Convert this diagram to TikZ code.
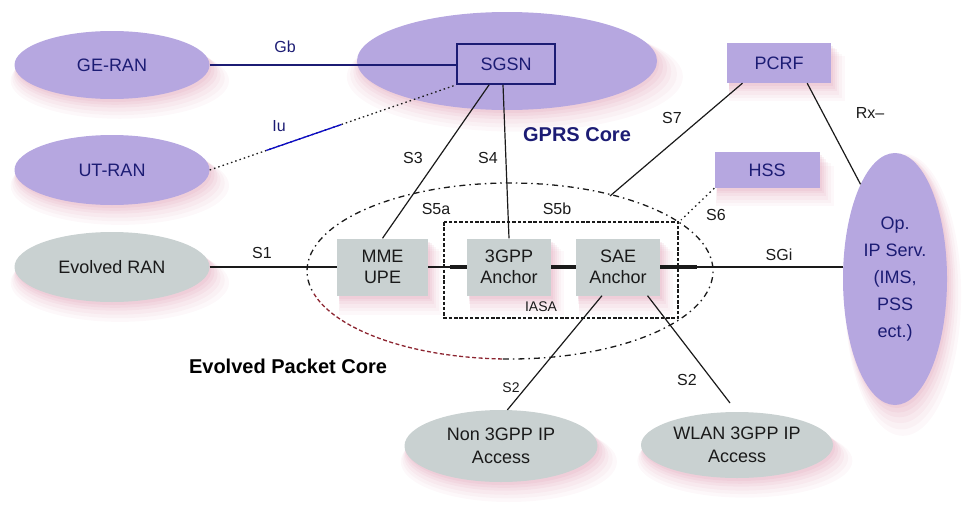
\documentclass[tikz,border=0pt]{standalone}
\usepackage{fontspec}
\setmainfont{Liberation Sans}
\usetikzlibrary{shapes.geometric,shadows,calc}

\definecolor{lav}{HTML}{B6A7E0}
\definecolor{ashgrey}{HTML}{C9D1D1}
\definecolor{navy}{HTML}{1C1C74}
\definecolor{glow}{HTML}{DFA0B6}
\definecolor{epcred}{HTML}{8C2430}
\definecolor{ink}{HTML}{1A1A1A}

\tikzset{
  halo/.style={
    general shadow={fill=glow, opacity=0.07, shadow scale=1.12, shadow xshift=7pt, shadow yshift=-14pt},
    general shadow={fill=glow, opacity=0.08, shadow scale=1.09, shadow xshift=6pt, shadow yshift=-12pt},
    general shadow={fill=glow, opacity=0.10, shadow scale=1.06, shadow xshift=5pt, shadow yshift=-10pt},
    general shadow={fill=glow, opacity=0.12, shadow scale=1.04, shadow xshift=4pt, shadow yshift=-7pt},
    general shadow={fill=glow, opacity=0.14, shadow scale=1.02, shadow xshift=3pt, shadow yshift=-5pt},
    general shadow={fill=glow, opacity=0.16, shadow scale=1.00, shadow xshift=2pt, shadow yshift=-3pt}},
  netcloud/.style={ellipse, fill=lav, inner sep=0pt, text=navy, halo, align=center,
    font=\fontsize{18}{21}\selectfont},
  greycloud/.style={ellipse, fill=ashgrey, inner sep=0pt, text=ink, halo, align=center,
    font=\fontsize{18}{23}\selectfont},
  unitbox/.style={rectangle, fill=ashgrey, inner sep=0pt, minimum width=84pt,
    minimum height=57pt, text=ink, align=center, halo, font=\fontsize{18}{21}\selectfont},
  funcbox/.style={rectangle, fill=lav, inner sep=0pt, text=navy,
    font=\fontsize{18}{21}\selectfont},
  iflabel/.style={font=\fontsize{16}{18}\selectfont, text=ink, inner sep=1pt},
  areatitle/.style={font=\fontsize{20}{22}\selectfont\bfseries, inner sep=1pt},
  link/.style={draw=ink, line width=1.2pt},
  trunk/.style={draw=ink, line width=4pt},
  dotlink/.style={draw=ink, line width=1.3pt, dash pattern=on 1.5pt off 3.5pt},
  epcdark/.style={draw=ink, line width=1.3pt, dash pattern=on 6pt off 4pt on 1.5pt off 4pt},
  epcmaroon/.style={draw=epcred, line width=1.3pt, dash pattern=on 4pt off 2.5pt},
  iasabox/.style={draw=ink, line width=1.1pt, dash pattern=on 3.5pt off 1.8pt},
}

\begin{document}
\begin{tikzpicture}[x=1pt, y=-1pt]
\useasboundingbox (0,0) rectangle (965,506);

% access networks on the left
\node[netcloud, minimum width=195pt, minimum height=68pt] (geran) at (112,65) {GE-RAN};
\node[netcloud, minimum width=195pt, minimum height=70pt] (utran) at (112,170) {UT-RAN};
\node[greycloud, minimum width=195pt, minimum height=70pt] (eran) at (112,267) {Evolved RAN};

% GPRS core with the SGSN
\node[ellipse, fill=lav, halo, inner sep=0pt, minimum width=300pt, minimum height=98pt] (gprs) at (507,61) {};
\node[funcbox, draw=navy, line width=1.8pt, minimum width=98pt, minimum height=40pt] (sgsn) at (506,64) {SGSN};
\node[areatitle, text=navy] (gprstitle) at (577,135) {GPRS Core};

% policy and subscriber functions
\node[funcbox, halo, minimum width=104pt, minimum height=40pt] (pcrf) at (779,63) {PCRF};
\node[funcbox, halo, minimum width=105pt, minimum height=36pt] (hss) at (767,170) {HSS};

% operator IP services
\node[netcloud, minimum width=104pt, minimum height=252pt, font=\fontsize{18}{27}\selectfont]
  (opip) at (895,279) {Op.\\IP Serv.\\(IMS,\\PSS\\ect.)};

% evolved packet core outline and the IASA area
\coordinate (epcc) at (510,271);
\draw[epcdark] ($(epcc)+(268:203pt and 88pt)$)
  arc[start angle=268, end angle=555, x radius=203pt, y radius=88pt];
\draw[epcmaroon] ($(epcc)+(195:203pt and 88pt)$)
  arc[start angle=195, end angle=268, x radius=203pt, y radius=88pt];
\draw[iasabox] (444,222) rectangle (678,318);
\node[areatitle] (epctitle) at (288,366) {Evolved Packet Core};

% core units
\node[unitbox, minimum width=91pt] (mme) at (382.5,267) {MME\\UPE};
\node[unitbox] (gpp) at (509,267) {3GPP\\Anchor};
\node[unitbox] (sae) at (618,267) {SAE\\Anchor};

% non-3GPP accesses
\node[greycloud, minimum width=193pt, minimum height=72pt] (non3gpp) at (501,446) {Non 3GPP IP\\Access};
\node[greycloud, minimum width=192pt, minimum height=66pt] (wlan) at (737,445) {WLAN 3GPP IP\\Access};

% free ends of interfaces that stop at the core outline
\coordinate (s7end) at (610,196);
\coordinate (s6end) at (681,220);
\coordinate (s2end) at (730,403);

% interfaces
\draw[draw=navy, line width=1.8pt] (geran.east) -- (geran.east -| sgsn.west);
\draw[draw=ink, line width=1.3pt, dash pattern=on 1.5pt off 3pt] (utran.east) -- (sgsn.south west);
\draw[draw=blue!60!navy, line width=1.3pt]
  ($(utran.east)!0.23!(sgsn.south west)$) -- ($(utran.east)!0.535!(sgsn.south west)$);
\draw[link] ($(sgsn.south west)!0.33!(sgsn.south east)$) -- (mme.north);
\draw[link] ($(sgsn.south west)!0.47!(sgsn.south east)$) -- (gpp.north);
\draw[link] ($(pcrf.south west)!0.15!(pcrf.south east)$) -- (s7end);
\draw[link] ($(pcrf.south west)!0.77!(pcrf.south east)$) -- (opip.110);
\draw[dotlink] (hss.south west) -- (s6end);
\draw[link] (eran.east) -- (mme.west);
\draw[link] (mme.east) -- (gpp.west);
\draw[trunk] ($(gpp.west)+(-17,0)$) -- (gpp.west);
\draw[trunk] (gpp.east) -- (sae.west);
\draw[trunk] (sae.east) -- ++(37,0);
\draw[link] (sae.east) -- (sae.east -| opip.west);
\draw[link] ($(sae.south west)!0.31!(sae.south east)$) -- (non3gpp.80);
\draw[link] ($(sae.south west)!0.85!(sae.south east)$) -- (s2end);

% interface names
\node[iflabel, text=navy] (lgb) at (285,47) {Gb};
\node[iflabel, text=navy] (liu) at (279,126) {Iu};
\node[iflabel] (ls3) at (413,158) {S3};
\node[iflabel] (ls4) at (488,158) {S4};
\node[iflabel] (ls7) at (672,118) {S7};
\node[iflabel] (lrx) at (870,113) {Rx–};
\node[iflabel] (ls5a) at (436,209) {S5a};
\node[iflabel] (ls5b) at (557,209) {S5b};
\node[iflabel] (ls6) at (716,215) {S6};
\node[iflabel] (ls1) at (262,253) {S1};
\node[iflabel] (lsgi) at (779,255) {SGi};
\node[iflabel, font=\fontsize{14}{16}\selectfont] (liasa) at (541,307) {IASA};
\node[iflabel, font=\fontsize{14}{16}\selectfont] (ls2a) at (511,388) {S2};
\node[iflabel] (ls2b) at (687,380) {S2};
\end{tikzpicture}
\end{document}
